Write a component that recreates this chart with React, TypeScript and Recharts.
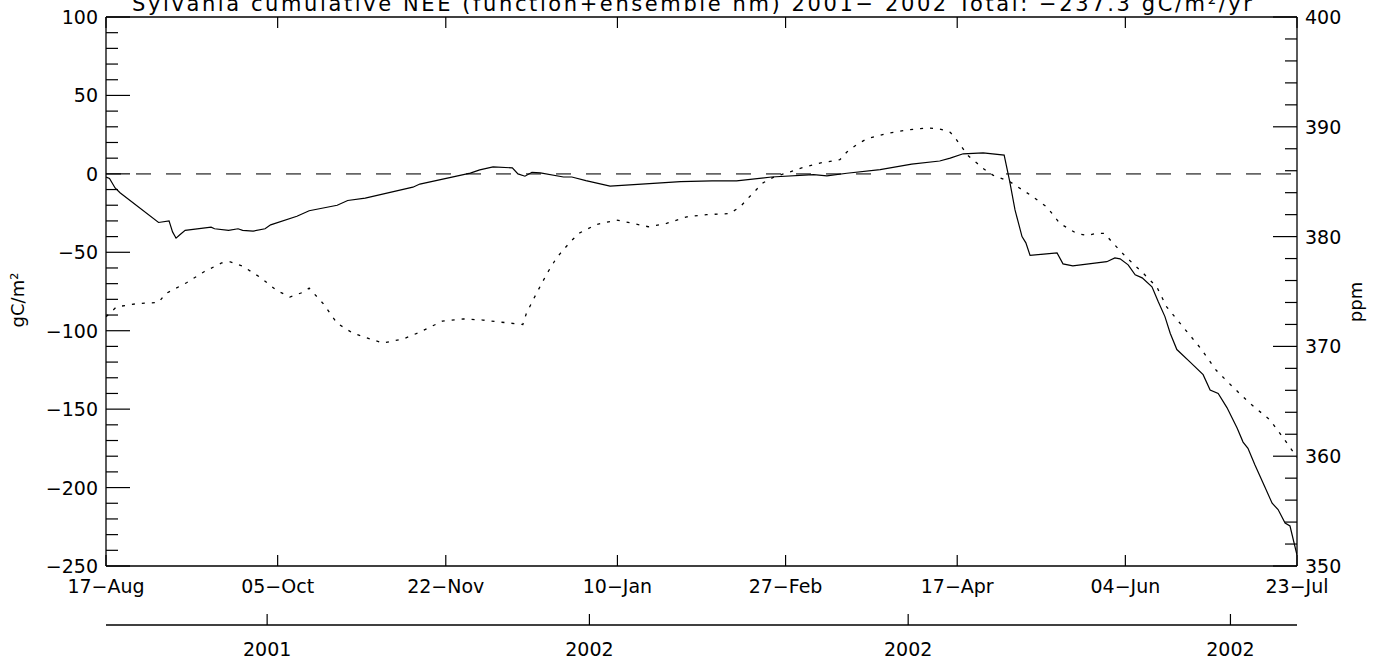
import React from "react";
import { LineChart, Line, XAxis, YAxis, ReferenceLine } from "recharts";

const W = 1374;
const H = 660;
const FONT = "'DejaVu Sans', sans-serif";
const INK = "#000";

// cumulative NEE (gC/m2), x = days since 17-Aug-2001
const neeDays = [
  0, 1, 2.6, 4, 15, 18, 19, 20, 21, 22.6, 30, 31, 35, 37.7, 39, 42, 45.4, 47, 54.5, 58, 66, 69, 74,
  87.6, 89.6, 104, 106.7, 110.5, 116, 117.6, 119.6, 121.6, 124, 130.6, 133, 137, 143.9, 154, 164,
  173, 180, 190, 202, 205.8, 211.5, 221, 230, 238, 241, 244.7, 250.4, 256.4, 258, 259.5, 261.5,
  262.6, 263.8, 271.5, 273.2, 276, 285.7, 288, 289.5, 291.8, 293.8, 295.8, 298.6, 300.4, 302.3,
  303.8, 305.7, 309.5, 313.2, 315.2, 317.5, 320, 322.9, 324.6, 326, 328, 330.8, 332.9, 334.6,
  336.6, 338, 340,
];
const neeValues = [
  -2, -3, -9, -12, -31, -30, -37, -41, -39, -36, -34, -35, -36, -35, -36, -36.5, -35, -32.5, -27,
  -23.5, -20, -17, -15.5, -8.5, -6.5, 0.5, 2.5, 4.5, 3.8, 0, -1.5, 1, 0.6, -2, -2, -4.3, -7.8, -6.4,
  -5, -4.5, -4.5, -2, -0.5, -1.3, 0.4, 2.7, 6.2, 8.2, 10, 12.8, 13.4, 12, -5, -23, -40, -44, -52,
  -50.4, -57.4, -58.7, -56, -53.6, -54.2, -58, -64.4, -66.3, -72, -81.6, -91, -101.6, -112, -120,
  -128, -137.8, -140, -149, -162, -171, -175, -185.6, -199.5, -210, -214, -222.6, -224.5, -243,
];

// CO2 (ppm), dotted
const co2Days = [
  0, 1, 3, 9, 15, 17, 23, 28, 33, 35.5, 39, 44, 48.7, 52.5, 56, 58, 62, 66, 70.5, 79, 85, 89.6, 96,
  102, 107.6, 113, 119, 120, 123, 126, 128.7, 132.5, 135, 140, 145.8, 150.5, 154.8, 160, 165.8,
  171.5, 178, 181, 184.8, 187.6, 190.5, 195.3, 198, 203.8, 209.5, 211.5, 214.4, 217.2, 223, 228.6,
  234.4, 238, 241, 242.4, 246, 248.6, 250.4, 253.2, 258, 263.8, 268.6, 272.3, 277, 280, 282.8, 285,
  287.5, 291.3, 296, 300, 302.8, 307.4, 312.3, 317, 321.7, 326.6, 332.3, 336, 340,
];
const co2Values = [
  372.7, 373.0, 373.6, 373.9, 374.0, 374.8, 375.8, 376.8, 377.6, 377.7, 377.3, 376.3, 375.1, 374.5,
  374.9, 375.3, 373.9, 372.1, 371.2, 370.3, 370.7, 371.3, 372.3, 372.5, 372.4, 372.2, 372.0, 373.0,
  374.9, 376.7, 378.1, 379.5, 380.3, 381.1, 381.5, 381.2, 380.9, 381.2, 381.8, 382.0, 382.1, 382.7,
  384.0, 384.9, 385.4, 385.9, 386.2, 386.7, 387.0, 387.7, 388.4, 388.9, 389.4, 389.7, 389.9, 389.8,
  389.5, 389.0, 387.4, 386.7, 386.2, 385.6, 385.0, 383.8, 382.7, 381.2, 380.3, 380.1, 380.3, 380.3,
  379.4, 378.1, 376.7, 375.4, 373.6, 371.8, 369.9, 367.8, 366.3, 364.8, 363.3, 361.7, 359.9,
];

const dateTicks = [0, 49, 97, 146, 194, 243, 291, 340];
const dateLabels = ["17-Aug", "05-Oct", "22-Nov", "10-Jan", "27-Feb", "17-Apr", "04-Jun", "23-Jul"];
const yearTicks = [46, 138, 229, 321];
const yearLabels = ["2001", "2002", "2002", "2002"];
const neeMajor = [-250, -200, -150, -100, -50, 0, 50, 100];
const ppmMajor = [350, 360, 370, 380, 390, 400];

const TITLE = "Sylvania cumulative NEE (function+ensemble hm) 2001- 2002 Total: -237.3 gC/m²/yr";

const neeData = neeDays.map((day, i) => ({ day, v: neeValues[i] }));
const co2Data = co2Days.map((day, i) => ({ day, v: co2Values[i] }));

// majors plus 4 minor ticks between each pair
const withMinor = (majors: number[]) =>
  majors.flatMap((m, i) =>
    i === 0 ? [m] : [1, 2, 3, 4, 5].map((k) => majors[i - 1] + ((m - majors[i - 1]) * k) / 5)
  );

const dash = (s: string | number) => String(s).replace(/-/g, "\u2212");

const txt = { fontSize: 19, fontFamily: FONT, fill: INK } as const;

function LeftTick(props: any) {
  const { x, y, payload } = props;
  const major = neeMajor.includes(payload.value);
  return (
    <g>
      <line x1={x} x2={x + (major ? 24 : 12)} y1={y} y2={y} stroke={INK} strokeWidth={1.2} />
      {major && (
        <text x={x - 8} y={y + 7} textAnchor="end" {...txt}>
          {dash(payload.value)}
        </text>
      )}
    </g>
  );
}

function RightTick(props: any) {
  const { x, y, payload } = props;
  const major = ppmMajor.includes(payload.value);
  return (
    <g>
      <line x1={x} x2={x - (major ? 24 : 12)} y1={y} y2={y} stroke={INK} strokeWidth={1.2} />
      {major && (
        <text x={x + 8} y={y + 7} textAnchor="start" {...txt}>
          {payload.value}
        </text>
      )}
    </g>
  );
}

function DateTick(props: any) {
  const { x, y, index } = props;
  return (
    <g>
      <line x1={x} x2={x} y1={y} y2={y - 11} stroke={INK} strokeWidth={1.2} />
      <text x={x} y={y + 27} textAnchor="middle" {...txt}>
        {dash(dateLabels[index])}
      </text>
    </g>
  );
}

function TopTick(props: any) {
  const { x, y } = props;
  return <line x1={x} x2={x} y1={y} y2={y + 11} stroke={INK} strokeWidth={1.2} />;
}

function YearTick(props: any) {
  const { x, y, index } = props;
  return (
    <g>
      <line x1={x} x2={x} y1={y} y2={y - 11} stroke={INK} strokeWidth={1.2} />
      <text x={x} y={y + 31} textAnchor="middle" {...txt}>
        {yearLabels[index]}
      </text>
    </g>
  );
}

const axisLine = { stroke: INK, strokeWidth: 1.3 };

export default function App() {
  return (
    <div style={{ position: "absolute", left: 0, top: 0, width: W, height: H, background: "#fff" }}>
      <LineChart width={W} height={H} margin={{ top: 16, right: 76, left: 105, bottom: 0 }}>
        <XAxis
          xAxisId="main"
          dataKey="day"
          type="number"
          domain={[0, 340]}
          ticks={dateTicks}
          interval={0}
          height={59}
          tickSize={0}
          tickMargin={0}
          tickLine={false}
          axisLine={axisLine}
          tick={DateTick}
          allowDataOverflow
        />
        <XAxis
          xAxisId="year"
          dataKey="day"
          type="number"
          domain={[0, 340]}
          ticks={yearTicks}
          interval={0}
          height={35}
          tickSize={0}
          tickMargin={0}
          tickLine={false}
          axisLine={axisLine}
          tick={YearTick}
          allowDataOverflow
        />
        <XAxis
          xAxisId="top"
          orientation="top"
          dataKey="day"
          type="number"
          domain={[0, 340]}
          ticks={dateTicks}
          interval={0}
          height={1}
          tickSize={0}
          tickMargin={0}
          tickLine={false}
          axisLine={axisLine}
          tick={TopTick}
          allowDataOverflow
        />
        <YAxis
          yAxisId="nee"
          type="number"
          domain={[-250, 100]}
          ticks={withMinor(neeMajor)}
          interval={0}
          width={1}
          tickSize={0}
          tickMargin={0}
          tickLine={false}
          axisLine={axisLine}
          tick={LeftTick}
          allowDataOverflow
        />
        <YAxis
          yAxisId="ppm"
          orientation="right"
          type="number"
          domain={[350, 400]}
          ticks={withMinor(ppmMajor)}
          interval={0}
          width={1}
          tickSize={0}
          tickMargin={0}
          tickLine={false}
          axisLine={axisLine}
          tick={RightTick}
          allowDataOverflow
        />
        <ReferenceLine
          xAxisId="main"
          yAxisId="nee"
          y={0}
          stroke="#666"
          strokeWidth={1.6}
          strokeDasharray="15 15"
        />
        <Line
          xAxisId="main"
          yAxisId="ppm"
          data={co2Data}
          dataKey="v"
          type="linear"
          stroke={INK}
          strokeWidth={1.3}
          strokeDasharray="3 7"
          dot={false}
          isAnimationActive={false}
        />
        <Line
          xAxisId="main"
          yAxisId="nee"
          data={neeData}
          dataKey="v"
          type="linear"
          stroke={INK}
          strokeWidth={1.2}
          dot={false}
          isAnimationActive={false}
        />
      </LineChart>
      <svg
        width={W}
        height={H}
        style={{ position: "absolute", left: 0, top: 0, pointerEvents: "none" }}
      >
        <text
          x={692}
          y={11}
          textAnchor="middle"
          textLength={1120}
          lengthAdjust="spacing"
          {...txt}
          fontSize={21}
        >
          {dash(TITLE)}
        </text>
        <text x={24} y={300} textAnchor="middle" transform="rotate(-90 24 300)" {...txt} fontSize={18}>
          gC/m²
        </text>
        <text x={1362} y={302} textAnchor="middle" transform="rotate(-90 1362 302)" {...txt} fontSize={18}>
          ppm
        </text>
      </svg>
    </div>
  );
}
